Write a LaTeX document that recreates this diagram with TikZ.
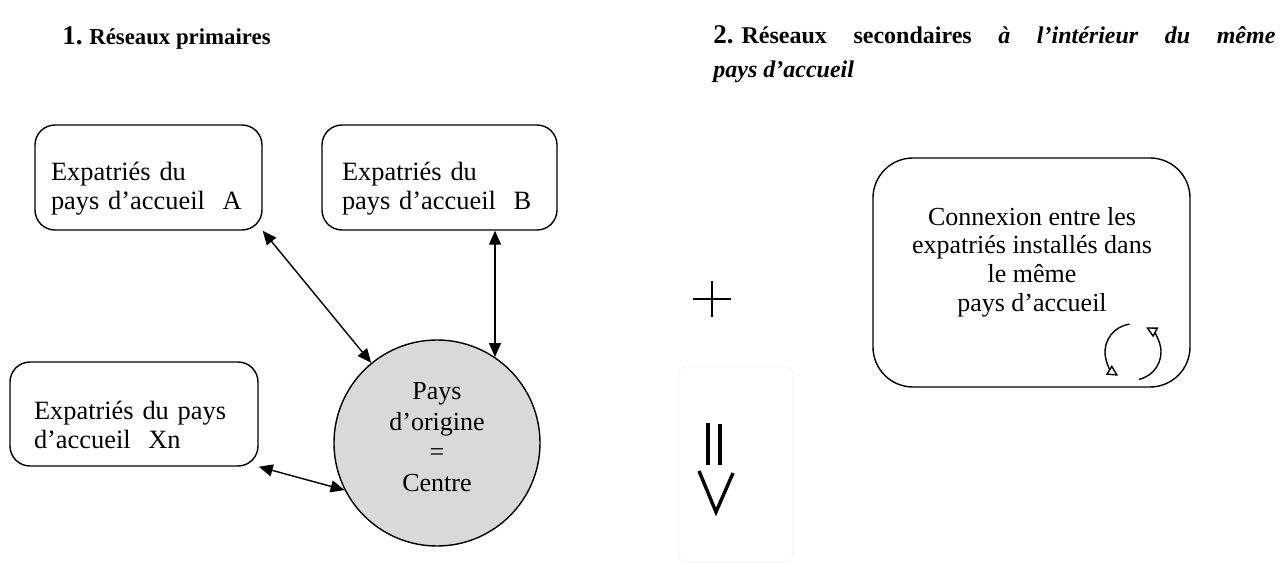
\documentclass[tikz,border=0pt]{standalone}
\usepackage{fontspec}
\setmainfont{Liberation Serif}
\usetikzlibrary{arrows.meta}
\definecolor{centregris}{RGB}{217,217,217}
\tikzset{
  paysbox/.style={draw, line width=0.7pt, rounded corners=10pt, align=left, font=\fontsize{13.2}{14.5}\selectfont},
  lien/.style={line width=0.7pt, {Triangle[length=7pt,width=6pt]}-{Triangle[length=7pt,width=6pt]}},
  cycle/.style={line width=0.7pt, -{Triangle[open,length=5.5pt,width=5.5pt]}}
}

\begin{document}
\begin{tikzpicture}[x=0.5pt,y=0.5pt]
\useasboundingbox (0,0) rectangle (1285,-572);
% titres
\node[anchor=base west, inner sep=0] (titreun) at (62,-45)
  {\bfseries{\fontsize{13.5}{16}\selectfont 1.} \fontsize{11.4}{14}\selectfont R\'eseaux primaires};
\node[anchor=north west, inner sep=0, text width=281pt, align=justify, font=\fontsize{12}{17}\selectfont\bfseries] (titredeux) at (713,-25)
  {{\fontsize{13.5}{16}\selectfont 2.}\hspace{4pt}R\'eseaux secondaires \textit{\`a l’int\'erieur du m\^eme}\linebreak \textit{pays d’accueil}};
% reseaux primaires
\node[paysbox, inner xsep=8pt, text width=97.5pt, minimum height=52.5pt] (paysA) at (148.5,-177.5)
  {\rule{0pt}{20pt}Expatri\'es du\\pays d’accueil\ \ A};
\node[paysbox, inner xsep=10pt, text width=97.5pt, minimum height=52.5pt] (paysB) at (439.5,-177.5)
  {\rule{0pt}{20pt}Expatri\'es du\\pays d’accueil\ \ B};
\node[paysbox, inner xsep=12pt, text width=100pt, minimum height=52pt] (paysXn) at (134,-414)
  {\rule{0pt}{20pt}Expatri\'es du pays\\d’accueil\ \ Xn};
\node[circle, draw, line width=0.7pt, fill=centregris, minimum size=103pt, align=center,
  font=\fontsize{13}{15.4}\selectfont] (origine) at (437,-443) {Pays\\d’origine\\=\\Centre\rule[-6pt]{0pt}{6pt}};
\draw[lien] (paysA.south east) -- (origine);
\draw[lien] (origine.56 |- paysB.south) -- (origine.56);
\draw[lien] (paysXn.south east) -- (origine.207);
% plus et fleche
\draw[line width=0.7pt] (693,-299) -- (731,-299);
\draw[line width=0.7pt] (712,-281) -- (712,-317);
\draw[black!5, rounded corners=4pt] (678,-367) rectangle (793,-562); % cadre pale
\draw[line width=1.8pt] (708,-423) -- (708,-465);
\draw[line width=1.8pt] (720,-424) -- (720,-465);
\draw[line width=1.7pt, line join=miter] (699,-471) -- (716,-512) -- (733,-473);
% reseaux secondaires
\node[draw, line width=0.7pt, rounded corners=20pt, minimum width=158.5pt, minimum height=114.5pt] (connexion) at (1031.5,-272.5) {};
\node[align=center, inner sep=0, font=\fontsize{13}{14.3}\selectfont] (connexiontexte) at (1032,-262)
  {Connexion entre les\\expatri\'es install\'es dans\\le m\^eme\\pays d’accueil};
\draw[cycle] (1133,-352) ++(97:28) arc (97:238:28);
\draw[cycle] (1133,-352) ++(-78:28) arc (-78:62:28);
\end{tikzpicture}
\end{document}
